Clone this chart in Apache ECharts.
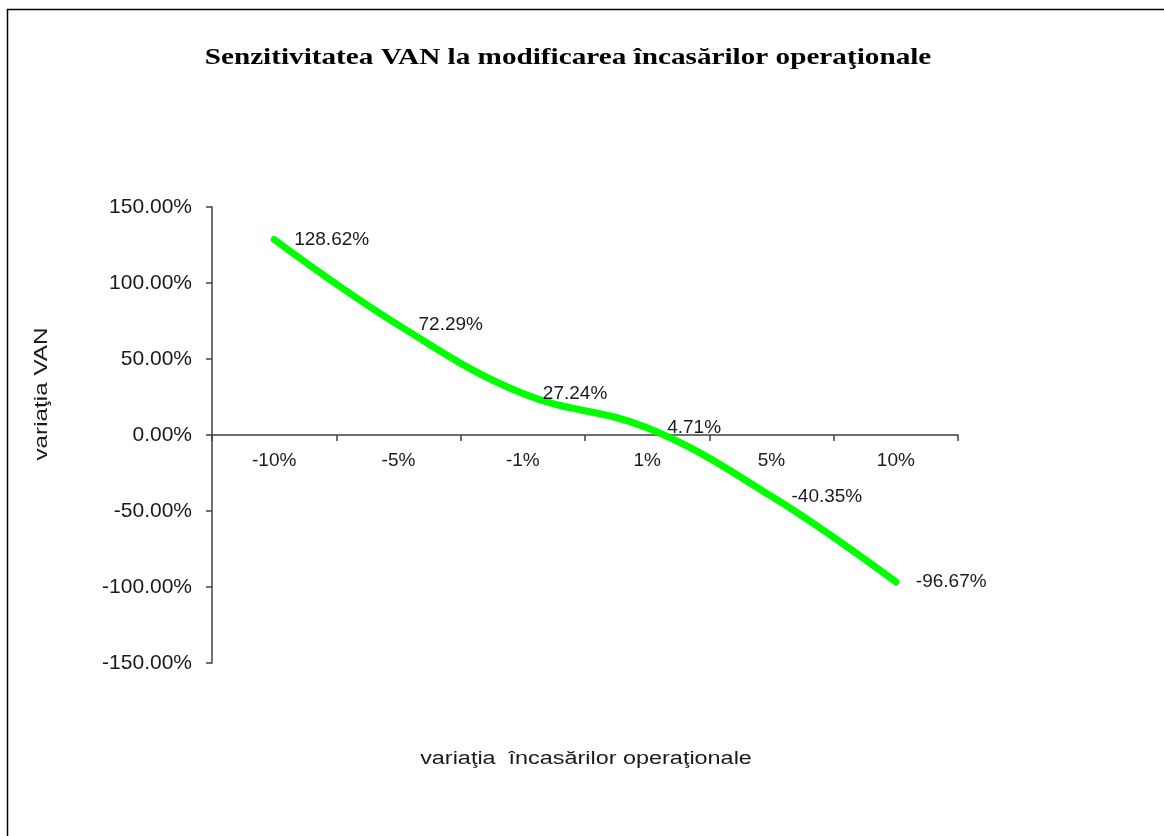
<!DOCTYPE html>
<html>
<head>
<meta charset="utf-8">
<script src="https://cdn.jsdelivr.net/npm/echarts@6/dist/echarts.min.js"></script>
<style>
  html, body { margin: 0; padding: 0; background: #fff; }
  #chart { width: 1164px; height: 836px; }
</style>
</head>
<body>
<div id="chart"></div>
<script>
const categories = ['-10%', '-5%', '-1%', '1%', '5%', '10%']
const vanValues = [128.62, 72.29, 27.24, 4.71, -40.35, -96.67]
const yTicks = { min: -150, max: 150, interval: 50 }

const titleText = 'Senzitivitatea VAN la modificarea încasărilor operaţionale'
const xName = 'variaţia  încasărilor operaţionale'
const yName = 'variaţia VAN'

const chart = echarts.init(document.getElementById('chart'))

const axisColor = '#404040'
const textColor = '#1a1a1a'
const sans = 'Liberation Sans, Arial, sans-serif'

// grid geometry, the x axis is moved up onto the zero line
const gridTop = 207
const gridHeight = 456
const zeroShift = gridHeight * (0 - yTicks.min) / (yTicks.max - yTicks.min)

const option = {
  animation: false,
  backgroundColor: '#fff',
  grid: { left: 212, top: gridTop, width: 746, height: gridHeight, containLabel: false },
  graphic: [
    {
      type: 'rect',
      shape: { x: 7.5, y: 9.5, width: 1300, height: 1000 },
      style: { fill: 'none', stroke: '#000', lineWidth: 1.5 },
      silent: true
    },
    {
      type: 'text',
      x: 568, y: 58,
      scaleX: 1.27,
      style: {
        text: titleText,
        font: 'bold 23px "Liberation Serif", "Times New Roman", serif',
        fill: '#000',
        textAlign: 'center',
        textVerticalAlign: 'middle'
      }
    },
    {
      type: 'text',
      x: 586, y: 759,
      scaleX: 1.3,
      style: {
        text: xName,
        font: '18px ' + sans,
        fill: textColor,
        textAlign: 'center',
        textVerticalAlign: 'middle'
      }
    },
    {
      type: 'text',
      x: 42, y: 394,
      rotation: Math.PI / 2,
      scaleX: 1.35,
      style: {
        text: yName,
        font: '18px ' + sans,
        fill: textColor,
        textAlign: 'center',
        textVerticalAlign: 'middle'
      }
    }
  ],
  xAxis: {
    type: 'category',
    data: categories,
    boundaryGap: true,
    offset: -zeroShift,
    axisLine: { onZero: false, lineStyle: { color: axisColor, width: 1.5 } },
    axisTick: { show: true, alignWithLabel: false, length: 6, lineStyle: { color: axisColor, width: 1.5 } },
    axisLabel: { color: textColor, fontSize: 19, fontFamily: sans, margin: 16 },
    splitLine: { show: false }
  },
  yAxis: {
    type: 'value',
    min: yTicks.min,
    max: yTicks.max,
    interval: yTicks.interval,
    axisLine: { show: true, lineStyle: { color: axisColor, width: 1.5 } },
    axisTick: { show: true, inside: false, length: 6, lineStyle: { color: axisColor, width: 1.5 } },
    axisLabel: {
      color: textColor, fontSize: 21, fontFamily: sans, margin: 20,
      formatter: v => v.toFixed(2) + '%'
    },
    splitLine: { show: false }
  },
  series: [
    {
      type: 'line',
      data: vanValues,
      smooth: 0.4,
      symbol: 'circle',
      symbolSize: 2,
      itemStyle: { color: '#00ff00' },
      lineStyle: { color: '#00ff00', width: 7, cap: 'round' },
      label: {
        show: true,
        position: 'right',
        distance: 19,
        color: textColor,
        fontSize: 19,
        fontFamily: sans,
        formatter: p => p.value.toFixed(2) + '%'
      }
    }
  ]
}

chart.setOption(option)
window.addEventListener('resize', () => chart.resize())
</script>
</body>
</html>
